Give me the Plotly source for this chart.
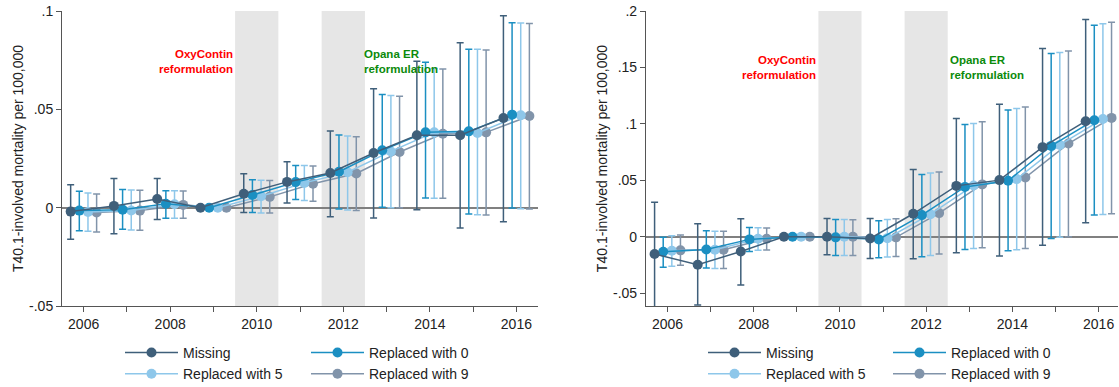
import plotly.graph_objects as go

years = [2006, 2007, 2008, 2009, 2010, 2011, 2012, 2013, 2014, 2015, 2016]
even_years = [2006, 2008, 2010, 2012, 2014, 2016]
series_names = ["Missing", "Replaced with 0", "Replaced with 5", "Replaced with 9"]
series_colors = ["#3f5f7a", "#1b8fc2", "#8ec7ea", "#8194aa"]

# ---- Left panel: estimates and 95% CI bounds ----
left_missing = [-0.0020, 0.0009, 0.0044, 0.0, 0.0071, 0.0131, 0.0176, 0.0278, 0.0368, 0.0368, 0.0456]
left_missing_lo = [-0.0160, -0.0132, -0.0060, 0.0, -0.0024, 0.0024, -0.0046, -0.0052, -0.0010, -0.0103, -0.0071]
left_missing_hi = [0.0117, 0.0148, 0.0148, 0.0, 0.0173, 0.0234, 0.0390, 0.0605, 0.0744, 0.0839, 0.0976]

left_r0 = [-0.0015, -0.0010, 0.0020, 0.0, 0.0064, 0.0130, 0.0183, 0.0292, 0.0383, 0.0388, 0.0473]
left_r0_lo = [-0.0117, -0.0110, -0.0054, 0.0, -0.0024, 0.0041, -0.0007, 0.0002, 0.0049, -0.0032, -0.0002]
left_r0_hi = [0.0083, 0.0092, 0.0086, 0.0, 0.0142, 0.0215, 0.0370, 0.0575, 0.0740, 0.0805, 0.0940]

left_r5 = [-0.0022, -0.0014, 0.0017, 0.0, 0.0058, 0.0126, 0.0180, 0.0286, 0.0383, 0.0380, 0.0470]
left_r5_lo = [-0.0120, -0.0113, -0.0054, 0.0, -0.0027, 0.0037, -0.0012, 0.0000, 0.0048, -0.0036, -0.0005]
left_r5_hi = [0.0075, 0.0090, 0.0086, 0.0, 0.0140, 0.0215, 0.0365, 0.0570, 0.0707, 0.0805, 0.0939]

left_r9 = [-0.0025, -0.0015, 0.0014, 0.0, 0.0055, 0.0122, 0.0174, 0.0283, 0.0376, 0.0383, 0.0466]
left_r9_lo = [-0.0124, -0.0115, -0.0054, 0.0, -0.0027, 0.0032, -0.0015, 0.0000, 0.0048, -0.0037, -0.0007]
left_r9_hi = [0.0070, 0.0088, 0.0085, 0.0, 0.0138, 0.0212, 0.0360, 0.0566, 0.0705, 0.0802, 0.0937]

# ---- Right panel: estimates and 95% CI bounds ----
right_missing = [-0.0153, -0.0248, -0.0130, 0.0, 0.0000, -0.0015, 0.0204, 0.0451, 0.0502, 0.0794, 0.1024]
right_missing_lo = [-0.0650, -0.0604, -0.0427, 0.0, -0.0160, -0.0192, -0.0195, -0.0142, -0.0171, -0.0076, 0.0124]
right_missing_hi = [0.0307, 0.0115, 0.0160, 0.0, 0.0163, 0.0163, 0.0596, 0.1048, 0.1174, 0.1667, 0.1924]

right_r0 = [-0.0133, -0.0112, -0.0023, 0.0, -0.0005, -0.0023, 0.0192, 0.0442, 0.0496, 0.0805, 0.1033]
right_r0_lo = [-0.0270, -0.0277, -0.0130, 0.0, -0.0165, -0.0186, -0.0177, -0.0112, -0.0124, -0.0015, 0.0192]
right_r0_hi = [-0.0003, 0.0053, 0.0083, 0.0, 0.0154, 0.0142, 0.0552, 0.0995, 0.1124, 0.1623, 0.1873]

right_r5 = [-0.0124, -0.0115, -0.0017, 0.0, 0.0000, -0.0012, 0.0200, 0.0455, 0.0511, 0.0814, 0.1044]
right_r5_lo = [-0.0262, -0.0280, -0.0120, 0.0, -0.0165, -0.0180, -0.0165, -0.0103, -0.0115, -0.0005, 0.0198]
right_r5_hi = [0.0010, 0.0050, 0.0080, 0.0, 0.0154, 0.0154, 0.0566, 0.1003, 0.1136, 0.1632, 0.1888]

right_r9 = [-0.0120, -0.0115, -0.0017, 0.0, 0.0000, -0.0005, 0.0210, 0.0464, 0.0525, 0.0826, 0.1053]
right_r9_lo = [-0.0253, -0.0280, -0.0118, 0.0, -0.0165, -0.0174, -0.0153, -0.0097, -0.0103, 0.0000, 0.0204]
right_r9_hi = [0.0015, 0.0050, 0.0077, 0.0, 0.0150, 0.0160, 0.0575, 0.1018, 0.1150, 0.1646, 0.1900]

left_yticks = [-0.05, 0, 0.05, 0.1]
left_yticktext = ["-.05", "0", ".05", ".1"]
right_yticks = [-0.05, 0, 0.05, 0.1, 0.15, 0.2]
right_yticktext = ["-.05", "0", ".05", ".1", ".15", ".2"]

shade_periods = [(2009.5, 2010.5), (2011.5, 2012.5)]
y_title = "T40.1-involved mortality per 100,000"

offsets = [-0.3, -0.1, 0.1, 0.3]
FONT = "Liberation Sans, Arial, sans-serif"

left_data = [
    (left_missing, left_missing_lo, left_missing_hi),
    (left_r0, left_r0_lo, left_r0_hi),
    (left_r5, left_r5_lo, left_r5_hi),
    (left_r9, left_r9_lo, left_r9_hi),
]
right_data = [
    (right_missing, right_missing_lo, right_missing_hi),
    (right_r0, right_r0_lo, right_r0_hi),
    (right_r5, right_r5_lo, right_r5_hi),
    (right_r9, right_r9_lo, right_r9_hi),
]

fig = go.Figure()

# legend assignment: col1 -> Missing, Replaced with 5 ; col2 -> Replaced with 0, Replaced with 9
left_leg = ["legend", "legend2", "legend", "legend2"]
right_leg = ["legend3", "legend4", "legend3", "legend4"]
draw_order = [3, 2, 1, 0]

for panel, data, legs, xa, ya in [
    ("L", left_data, left_leg, "x", "y"),
    ("R", right_data, right_leg, "x2", "y2"),
]:
    for i in draw_order:
        vals, lo, hi = data[i]
        xs = [yr + offsets[i] for yr in years]
        fig.add_trace(go.Scatter(
            x=xs, y=vals, mode="lines+markers",
            name=series_names[i],
            line=dict(color=series_colors[i], width=1.5),
            marker=dict(color=series_colors[i], size=10),
            error_y=dict(type="data", symmetric=False,
                         array=[h - v for h, v in zip(hi, vals)],
                         arrayminus=[v - l for v, l in zip(vals, lo)],
                         color=series_colors[i], thickness=1.5, width=3.5),
            xaxis=xa, yaxis=ya, legend=legs[i],
        ))

shapes = []
for xr, yr_ in [("x", "y domain"), ("x2", "y2 domain")]:
    for a, b in shade_periods:
        shapes.append(dict(type="rect", xref=xr, yref=yr_, x0=a, x1=b, y0=0, y1=1,
                           fillcolor="#e6e6e6", line=dict(width=0), layer="below"))

ann_font = 11.5
annotations = [
    dict(x=2009.5, y=0.0745, xref="x", yref="y", xanchor="right", yanchor="middle",
         text="<b>OxyContin</b><br><b>reformulation</b>", align="right", showarrow=False,
         font=dict(color="#ff0000", size=ann_font, family=FONT)),
    dict(x=2012.43, y=0.0745, xref="x", yref="y", xanchor="left", yanchor="middle",
         text="<b>Opana ER</b><br><b>reformulation</b>", align="left", showarrow=False,
         font=dict(color="#0b8a0b", size=ann_font, family=FONT)),
    dict(x=2009.5, y=0.1497, xref="x2", yref="y2", xanchor="right", yanchor="middle",
         text="<b>OxyContin</b><br><b>reformulation</b>", align="right", showarrow=False,
         font=dict(color="#ff0000", size=ann_font, family=FONT)),
    dict(x=2012.5, y=0.1497, xref="x2", yref="y2", xanchor="left", yanchor="middle",
         text="<b>Opana ER</b><br><b>reformulation</b>", align="left", showarrow=False,
         font=dict(color="#0b8a0b", size=ann_font, family=FONT)),
]

xtext = [str(y) if y in even_years else "" for y in years]
xaxis_common = dict(tickmode="array", tickvals=years, ticktext=xtext, ticks="outside",
                    ticklen=5, tickcolor="#555555", showline=True, linecolor="#555555",
                    linewidth=1, showgrid=False, zeroline=False, automargin=False,
                    tickfont=dict(size=14, color="#222222", family=FONT))
yaxis_common = dict(ticks="outside", ticklen=5, tickcolor="#555555", showline=True,
                    linecolor="#555555", linewidth=1, showgrid=False, zeroline=True,
                    zerolinecolor="#808080", zerolinewidth=1.5, automargin=False,
                    tickfont=dict(size=14, color="#222222", family=FONT),
                    title=dict(text=y_title, font=dict(size=14, color="#222222", family=FONT),
                               standoff=2))

legend_common = dict(orientation="v", bgcolor="rgba(0,0,0,0)", borderwidth=0,
                     font=dict(size=14, color="#222222", family=FONT),
                     itemwidth=53, tracegroupgap=0, xanchor="left", yanchor="top",
                     traceorder="reversed", itemclick=False)

fig.update_layout(
    template="none",
    width=1119, height=387,
    margin=dict(l=62, r=1, t=11, b=81, autoexpand=False),
    font=dict(family=FONT, size=14, color="#222222"),
    plot_bgcolor="white", paper_bgcolor="white",
    showlegend=True,
    xaxis=dict(domain=[0, 0.4508], range=[2005.5, 2016.5], anchor="y", **xaxis_common),
    yaxis=dict(domain=[0, 1], range=[-0.05, 0.1], anchor="x", tickmode="array",
               tickvals=left_yticks, ticktext=left_yticktext, **yaxis_common),
    xaxis2=dict(domain=[0.553, 1], range=[2005.5, 2016.45], anchor="y2", **xaxis_common),
    yaxis2=dict(domain=[0, 1], range=[-0.0613, 0.2], anchor="x2", tickmode="array",
                tickvals=right_yticks, ticktext=right_yticktext, **yaxis_common),
    shapes=shapes,
    annotations=annotations,
    legend=dict(x=(120 - 62) / 1056, y=-0.105, **legend_common),
    legend2=dict(x=(306 - 62) / 1056, y=-0.105, **legend_common),
    legend3=dict(x=(703 - 62) / 1056, y=-0.105, **legend_common),
    legend4=dict(x=(888 - 62) / 1056, y=-0.105, **legend_common),
)

fig.write_html("out.html", config={"displayModeBar": False},
               post_script="document.body.style.margin='0px';")
